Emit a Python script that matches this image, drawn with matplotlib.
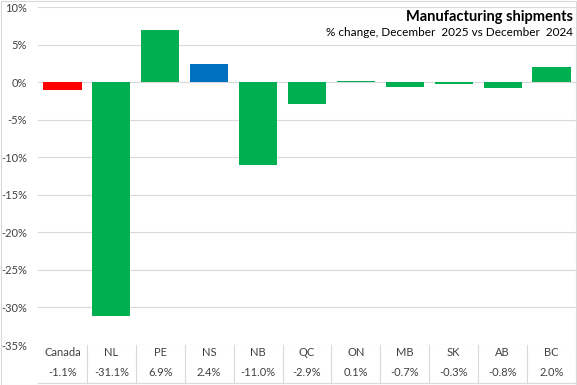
import matplotlib.pyplot as plt
import matplotlib.transforms as mtransforms
from matplotlib.ticker import FuncFormatter

plt.rcParams["font.family"] = ["Lato", "DejaVu Sans"]

regions = ["Canada", "NL", "PE", "NS", "NB", "QC", "ON", "MB", "SK", "AB", "BC"]
changes = [-1.1, -31.1, 6.9, 2.4, -11.0, -2.9, 0.1, -0.7, -0.3, -0.8, 2.0]
bar_colors = ["#FF0000", "#00B050", "#00B050", "#0070C0", "#00B050", "#00B050",
              "#00B050", "#00B050", "#00B050", "#00B050", "#00B050"]

W, H = 577, 385
fig = plt.figure(figsize=(W / 100, H / 100), dpi=100)
ax = fig.add_axes([38 / W, (H - 345) / H, 538 / W, 338 / H])

x = list(range(len(regions)))
ax.bar(x, changes, width=0.78, color=bar_colors, zorder=3)

ax.set_xlim(-0.5, len(regions) - 0.5)
ax.set_ylim(-35, 10)
ax.set_yticks(range(-35, 11, 5))
ax.yaxis.set_major_formatter(FuncFormatter(lambda v, p: f"{v:.0f}%"))
ax.tick_params(axis="y", length=0, labelsize=8, colors="#404040", pad=8)
ax.set_xticks([])
ax.grid(axis="y", color="#D9D9D9", lw=0.8, zorder=0)
for s in ax.spines.values():
    s.set_visible(False)

# data table below the plot
trans = mtransforms.blended_transform_factory(ax.transData, ax.transAxes)
row_h = 38 / 338
for i, (r, v) in enumerate(zip(regions, changes)):
    ax.text(i, -8 / 338, r, transform=trans, ha="center", va="center",
            fontsize=8, color="#404040")
    ax.text(i, -28 / 338, f"{v:.1f}%", transform=trans, ha="center", va="center",
            fontsize=8, color="#404040")
for i in range(1, len(regions) + 1):
    ax.plot([i - 0.5, i - 0.5], [0, -row_h], transform=trans, color="#D9D9D9",
            lw=0.8, clip_on=False)
ax.plot([-0.5, len(regions) - 0.5], [-row_h, -row_h], transform=trans,
        color="#D9D9D9", lw=0.8, clip_on=False)

# title block
fig.text(573 / W, 1 - 17 / H, "Manufacturing shipments", ha="right", va="center",
         fontsize=10.5, fontweight="bold", color="#000000",
         bbox=dict(facecolor="white", edgecolor="none", pad=1))
fig.text(573 / W, 1 - 32 / H, "% change, December  2025 vs December  2024",
         ha="right", va="center", fontsize=8.5, color="#000000")

# chart border
fig.patches.append(plt.Rectangle((0.5 / W, 0.5 / H), 1 - 1.5 / W, 1 - 1.5 / H,
                                 transform=fig.transFigure, fill=False,
                                 edgecolor="#D9D9D9", lw=0.8))

fig.savefig("out.png", dpi=100)
